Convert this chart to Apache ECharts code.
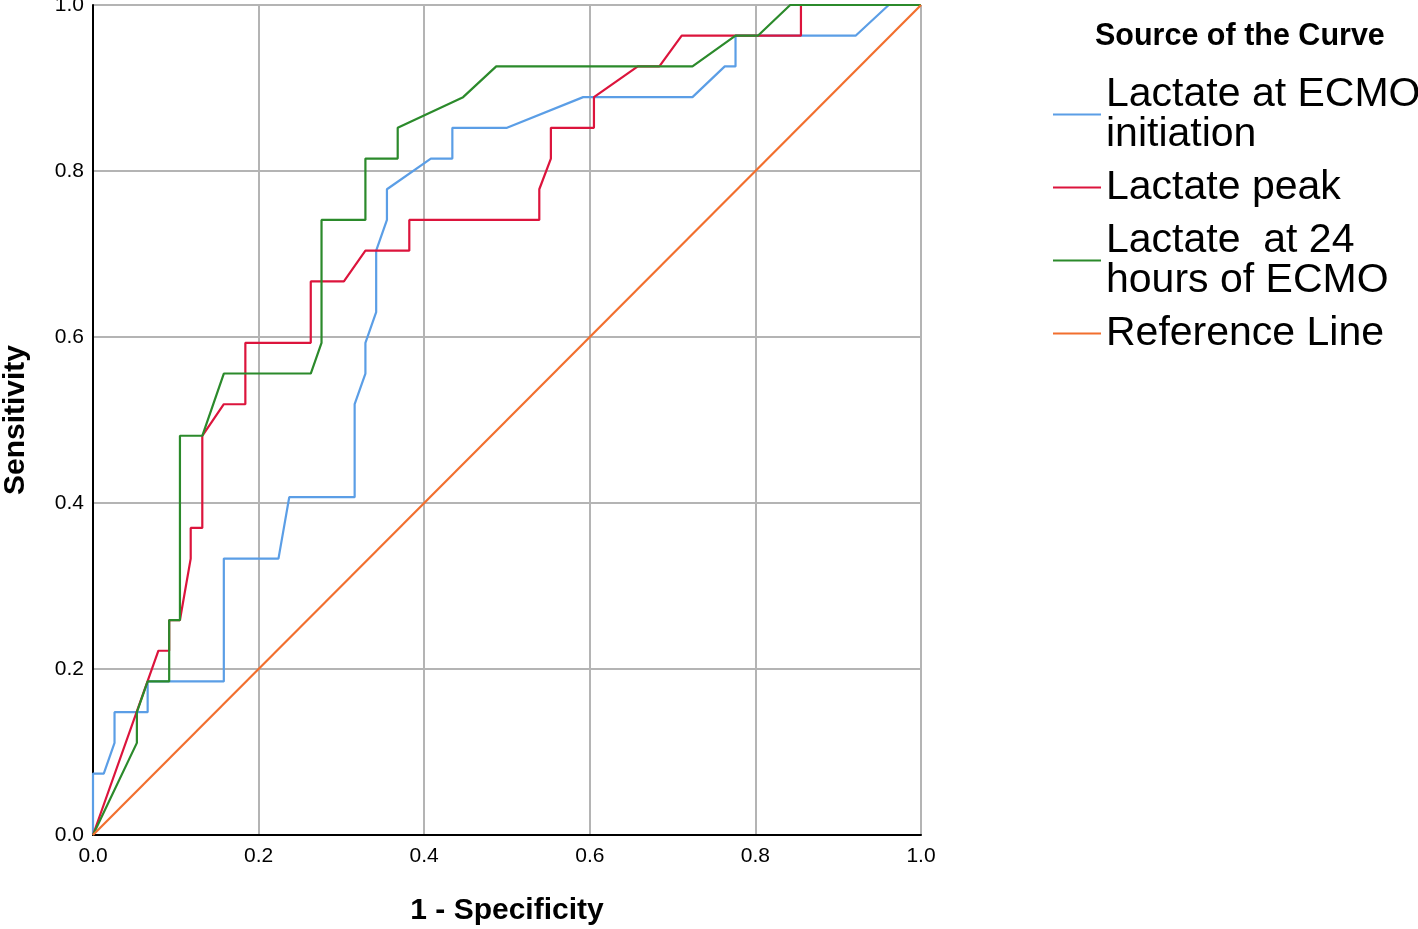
<!DOCTYPE html>
<html>
<head>
<meta charset="utf-8">
<script src="https://cdn.jsdelivr.net/npm/echarts@6/dist/echarts.min.js"></script>
<style>
html,body{margin:0;padding:0;background:#fff;}
#chart{width:1418px;height:929px;}
</style>
</head>
<body>
<div id="chart"></div>
<script>
// Series names
var seriesNames = ['Lactate at ECMO\ninitiation', 'Lactate peak', 'Lactate  at 24\nhours of ECMO', 'Reference Line'];

// Lactate at ECMO initiation (1 - specificity, sensitivity)
var initX = [0, 0, 0.013, 0.026, 0.026, 0.066, 0.066, 0.158, 0.158, 0.224, 0.237, 0.316, 0.316, 0.329, 0.329, 0.342, 0.342, 0.355, 0.355, 0.408, 0.434, 0.434, 0.500, 0.592, 0.724, 0.763, 0.776, 0.776, 0.921, 0.961, 1];
var initY = [0, 0.074, 0.074, 0.111, 0.148, 0.148, 0.185, 0.185, 0.333, 0.333, 0.407, 0.407, 0.519, 0.556, 0.593, 0.630, 0.704, 0.741, 0.778, 0.815, 0.815, 0.852, 0.852, 0.889, 0.889, 0.926, 0.926, 0.963, 0.963, 1, 1];

// Lactate peak
var peakX = [0, 0.079, 0.092, 0.092, 0.105, 0.118, 0.118, 0.132, 0.132, 0.158, 0.184, 0.184, 0.263, 0.263, 0.303, 0.329, 0.382, 0.382, 0.539, 0.539, 0.553, 0.553, 0.605, 0.605, 0.658, 0.684, 0.711, 0.855, 0.855, 1];
var peakY = [0, 0.222, 0.222, 0.259, 0.259, 0.333, 0.370, 0.370, 0.481, 0.519, 0.519, 0.593, 0.593, 0.667, 0.667, 0.704, 0.704, 0.741, 0.741, 0.778, 0.815, 0.852, 0.852, 0.889, 0.926, 0.926, 0.963, 0.963, 1, 1];

// Lactate at 24 hours of ECMO
var h24X = [0, 0.053, 0.053, 0.066, 0.092, 0.092, 0.105, 0.105, 0.132, 0.158, 0.263, 0.276, 0.276, 0.329, 0.329, 0.368, 0.368, 0.447, 0.487, 0.724, 0.776, 0.803, 0.842, 1];
var h24Y = [0, 0.111, 0.148, 0.185, 0.185, 0.259, 0.259, 0.481, 0.481, 0.556, 0.556, 0.593, 0.741, 0.741, 0.815, 0.815, 0.852, 0.889, 0.926, 0.926, 0.963, 0.963, 1, 1];

// Reference line
var refX = [0, 1];
var refY = [0, 1];

// Axis ticks
var axisMin = 0, axisMax = 1, axisStep = 0.2;

var colors = ['#5b9ee6', '#dc143c', '#2b8a2b', '#f26f2e'];
var FONT = '"Liberation Sans", Arial, Helvetica, sans-serif';

function zip(xs, ys) {
  return xs.map(function (x, i) { return [x, ys[i]]; });
}
var allData = [zip(initX, initY), zip(peakX, peakY), zip(h24X, h24Y), zip(refX, refY)];

var chart = echarts.init(document.getElementById('chart'), null, {renderer: 'canvas'});

function axisCommon(name) {
  return {
    type: 'value',
    min: axisMin,
    max: axisMax,
    interval: axisStep,
    name: name,
    nameLocation: 'middle',
    nameTextStyle: {color: '#000', fontSize: 30, fontWeight: 'bold', fontFamily: FONT},
    axisLine: {show: true, onZero: false, lineStyle: {color: '#000', width: 2}},
    axisTick: {show: false},
    axisLabel: {
      color: '#000', fontSize: 21, fontFamily: FONT,
      formatter: function (v) { return v.toFixed(1); }
    },
    splitLine: {show: true, lineStyle: {color: '#b4b4b4', width: 2}}
  };
}

var xAxis = axisCommon('1 - Specificity');
xAxis.nameGap = 61;
xAxis.axisLabel.margin = 11;
var yAxis = axisCommon('Sensitivity');
yAxis.nameGap = 62;
yAxis.axisLabel.margin = 9;

var option = {
  backgroundColor: '#fff',
  animation: false,
  title: {
    text: 'Source of the Curve',
    left: 1095,
    top: 21,
    padding: 0,
    textStyle: {color: '#000', fontSize: 30.5, fontWeight: 'bold', fontFamily: FONT}
  },
  legend: {
    orient: 'vertical',
    left: 1053,
    top: 74,
    padding: 0,
    itemGap: 12,
    itemWidth: 48,
    itemHeight: 2,
    icon: 'rect',
    data: seriesNames,
    textStyle: {color: '#000', fontSize: 41, lineHeight: 40, fontFamily: FONT}
  },
  grid: {left: 93, right: 497, top: 5, bottom: 94, containLabel: false, outerBoundsMode: 'none'},
  xAxis: xAxis,
  yAxis: yAxis,
  series: seriesNames.map(function (n, i) {
    return {
      name: n,
      type: 'line',
      data: allData[i],
      symbol: 'none',
      showSymbol: false,
      lineStyle: {color: colors[i], width: 2.2},
      itemStyle: {color: colors[i]},
      z: 2 + i
    };
  })
};
chart.setOption(option);
</script>
</body>
</html>
